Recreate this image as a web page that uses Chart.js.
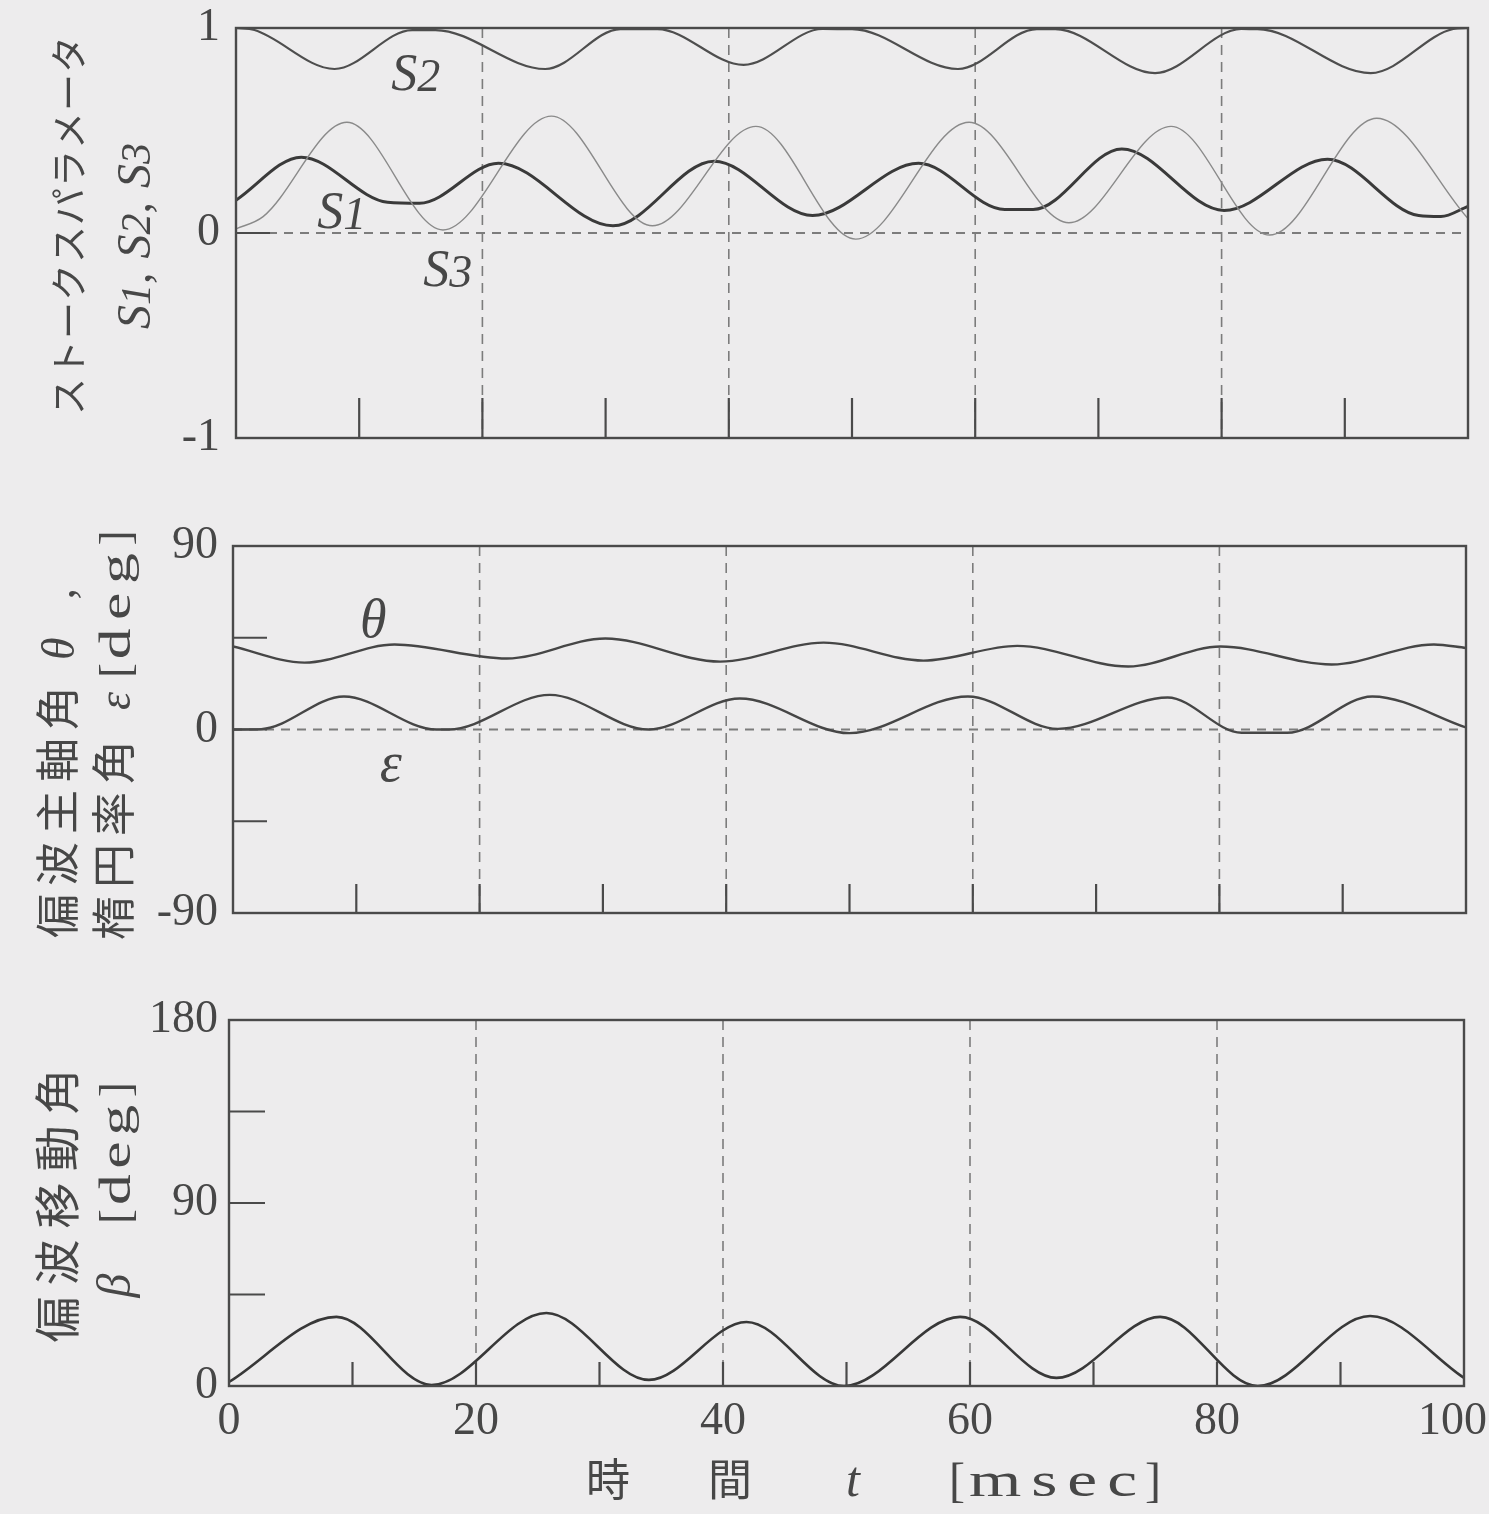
<!DOCTYPE html>
<html lang="ja">
<head>
<meta charset="utf-8">
<title>ストークスパラメータと偏波角の時間変化</title>
<script src="https://cdn.jsdelivr.net/npm/chart.js@4.4.1/dist/chart.umd.min.js"></script>
<style>
  html, body { margin: 0; padding: 0; background: #edeced; overflow: hidden; }
  #sheet { position: relative; width: 1489px; height: 1514px; }
  #sheet canvas { position: absolute; left: 0; }
</style>
</head>
<body>
<div id="sheet">
  <canvas id="stokes"></canvas>
  <canvas id="angles"></canvas>
  <canvas id="beta"></canvas>
</div>
<script>
// ---- time axis [msec] ----
const T_LABELS = [0, 20, 40, 60, 80, 100];
const T_GRID = [20, 40, 60, 80];
const T_TICKS = [10, 20, 30, 40, 50, 60, 70, 80, 90];

// ---- Stokes parameters (turning points of each trace) ----
const S1_T = [0, 5.3, 12.3, 14.9, 21.3, 30.6, 38.8, 46.8, 55.4, 62.4, 64.7, 71.9, 80.2, 88.6, 96.0, 97.8, 100];
const S1_V = [0.16, 0.37, 0.15, 0.145, 0.34, 0.035, 0.35, 0.085, 0.34, 0.115, 0.115, 0.41, 0.11, 0.36, 0.085, 0.08, 0.13];
const S2_T = [0, 1.5, 8.0, 14.3, 16.2, 25.1, 31.2, 34.2, 41.2, 47.6, 50.0, 58.6, 65.0, 66.5, 74.6, 81.6, 82.9, 92.1, 98.8, 100];
const S2_V = [1.0, 0.99, 0.80, 0.99, 0.99, 0.80, 0.995, 0.995, 0.82, 0.995, 0.995, 0.80, 0.995, 0.995, 0.78, 0.995, 0.995, 0.78, 0.995, 1.0];
const S3_T = [0, 2.2, 9.0, 16.8, 25.6, 33.8, 42.2, 50.3, 59.5, 67.6, 75.9, 83.9, 92.6, 100];
const S3_V = [0.02, 0.08, 0.54, 0.015, 0.57, 0.035, 0.52, -0.03, 0.54, 0.05, 0.52, -0.01, 0.56, 0.07];

// ---- principal axis angle theta and ellipticity angle epsilon [deg] ----
const THETA_T = [0, 5.8, 13.1, 22.2, 30.2, 39.5, 47.9, 56.0, 63.6, 72.6, 80.1, 89.1, 97.4, 100];
const THETA_V = [40.7, 32.8, 41.7, 34.8, 44.6, 33.3, 42.6, 33.8, 41.0, 30.9, 40.7, 31.9, 41.7, 40.0];
const EPS_T = [0, 2.3, 9.0, 16.5, 17.5, 25.7, 33.7, 41.1, 50.0, 59.6, 66.9, 75.8, 81.8, 85.5, 92.4, 100];
const EPS_V = [0, 0.2, 16.2, 0, 0, 17.0, 0, 15.2, -1.8, 16.2, 0.3, 15.7, -1.6, -1.6, 16.2, 1.0];

// ---- polarization shift angle beta [deg] ----
const BETA_T = [0, 8.7, 16.4, 25.7, 34.0, 41.9, 49.8, 59.2, 67.0, 75.4, 83.3, 92.4, 100];
const BETA_V = [2, 34, 0.5, 35.9, 3, 31.5, 0, 34, 4, 34, 0, 34.4, 4];

// ---- labelled values on the vertical axes ----
const STOKES_Y_LABELS = [-1, 0, 1];
const ANGLE_Y_LABELS = [-90, 0, 90];
const BETA_Y_LABELS = [0, 90, 180];

const SERIF = '"Liberation Serif", "DejaVu Serif", serif';
const JP = '"Noto Sans CJK JP", "Noto Sans CJK SC", sans-serif';
const INK = '#474747';
const FRAME = '#4a4a4a';
const GRID = '#7c7c7c';
const TICK_FONT = { family: SERIF, size: 46 };

const pts = (ts, vs) => ts.map((t, i) => ({ x: t, y: vs[i] }));

function seg(ctx, x1, y1, x2, y2) {
  ctx.beginPath(); ctx.moveTo(x1, y1); ctx.lineTo(x2, y2); ctx.stroke();
}

// width of one piece of a mixed-font text run
function partWidth(ctx, p) {
  if (p.gap) return p.gap;
  ctx.font = p.f;
  if (p.adv) return p.adv * [...p.t].length;
  if (p.w) return p.w;
  return ctx.measureText(p.t).width * (p.sx || 1);
}

function drawPart(ctx, p, x, y) {
  if (p.gap) return;
  ctx.font = p.f;
  const sx = p.sx || 1;
  const chars = [...p.t];
  const yy = y + (p.dy || 0);
  const put = (s, cx) => {
    ctx.save(); ctx.translate(cx, yy); ctx.scale(sx, 1); ctx.fillText(s, 0, 0); ctx.restore();
  };
  if (p.adv) {
    chars.forEach((c, i) => put(c, x + i * p.adv));
  } else if (p.w) {
    // spread the characters evenly over the given width
    const nat = chars.map(c => ctx.measureText(c).width * sx);
    const sum = nat.reduce((a, b) => a + b, 0);
    const extra = chars.length > 1 ? (p.w - sum) / (chars.length - 1) : 0;
    let cx = x;
    chars.forEach((c, i) => { put(c, cx); cx += nat[i] + extra; });
  } else {
    put(p.t, x);
  }
}

// text run, optionally rotated to read bottom-to-top
function drawRun(ctx, x, y, parts, opts) {
  const o = Object.assign({ rotate: false, align: 'start' }, opts);
  ctx.save();
  ctx.translate(x, y);
  if (o.rotate) ctx.rotate(-Math.PI / 2);
  ctx.textBaseline = 'alphabetic';
  ctx.textAlign = 'left';
  ctx.fillStyle = INK;
  const ws = parts.map(p => partWidth(ctx, p));
  const total = ws.reduce((a, b) => a + b, 0);
  let cx = o.align === 'center' ? -total / 2 : 0;
  parts.forEach((p, i) => { drawPart(ctx, p, cx, 0); cx += ws[i]; });
  ctx.restore();
}

function decor(cfg) {
  return {
    id: 'decor',
    beforeDatasetsDraw(chart) {
      const { ctx, chartArea: a, scales: { x, y } } = chart;
      ctx.save();
      ctx.strokeStyle = GRID;
      ctx.lineWidth = 1.6;
      ctx.setLineDash([10, 7]);
      T_GRID.forEach(t => {
        const px = x.getPixelForValue(t);
        seg(ctx, px, a.top, px, a.bottom);
      });
      if (cfg.zeroLine) {
        ctx.setLineDash([9, 7]);
        ctx.lineWidth = 1.8;
        const py = y.getPixelForValue(0);
        seg(ctx, a.left, py, a.right, py);
      }
      ctx.restore();
    },
    afterDatasetsDraw(chart) {
      const { ctx, chartArea: a, scales: { x, y } } = chart;
      ctx.save();
      ctx.strokeStyle = FRAME;
      ctx.lineWidth = 2.2;
      // inward ticks along the time axis
      T_TICKS.forEach(t => {
        const px = x.getPixelForValue(t);
        seg(ctx, px, a.bottom, px, a.bottom - cfg.tickLen);
      });
      // inward ticks along the value axis
      cfg.yTicks.forEach(v => {
        const py = y.getPixelForValue(v);
        seg(ctx, a.left, py, a.left + cfg.yTickLen, py);
      });
      // frame
      ctx.lineWidth = 2.4;
      ctx.strokeRect(a.left, a.top, a.right - a.left, a.bottom - a.top);
      ctx.restore();

      // trace names inside the plot
      cfg.marks.forEach(m => {
        drawRun(ctx, x.getPixelForValue(m.t), y.getPixelForValue(m.v), m.parts);
      });
      // axis titles (page coordinates shifted into this canvas)
      cfg.titles.forEach(tt => {
        drawRun(ctx, tt.x, tt.y - cfg.top, tt.parts, { rotate: tt.rotate, align: tt.align });
      });
    }
  };
}

function panel(id, cfg) {
  const canvas = document.getElementById(id);
  canvas.width = 1489;
  canvas.height = cfg.height;
  canvas.style.top = cfg.top + 'px';
  const lastT = T_LABELS[T_LABELS.length - 1];
  return new Chart(canvas, {
    type: 'line',
    data: { datasets: cfg.datasets },
    options: {
      responsive: false,
      animation: false,
      events: [],
      layout: { padding: { left: 0, right: cfg.padRight, top: cfg.padTop, bottom: cfg.padBottom } },
      plugins: { legend: { display: false }, tooltip: { enabled: false } },
      elements: { point: { radius: 0 } },
      scales: {
        x: {
          type: 'linear', min: 0, max: 100,
          display: cfg.showX,
          afterFit(s) { s.paddingLeft = 0; s.paddingRight = 0; if (cfg.showX) s.height = 70; },
          grid: { display: false, drawTicks: false },
          border: { display: false },
          ticks: {
            stepSize: 20, padding: 8, maxRotation: 0, autoSkip: false,
            color: INK, font: TICK_FONT,
            // the last label is nudged inward so it stays on the page
            callback: v => (T_LABELS.includes(v) ? (v === lastT ? v + '\u2002' : String(v)) : '')
          }
        },
        y: {
          type: 'linear', min: cfg.yMin, max: cfg.yMax,
          afterFit(s) { s.width = cfg.left; s.paddingTop = 0; s.paddingBottom = 0; },
          grid: { display: false, drawTicks: false },
          border: { display: false },
          ticks: {
            stepSize: cfg.yStep, padding: cfg.yPad, autoSkip: false,
            color: INK, font: TICK_FONT,
            callback: v => (cfg.yLabels.includes(v) ? String(v) : '')
          }
        }
      }
    },
    plugins: [decor(cfg)]
  });
}

const line = (data, color, width) => ({
  data, borderColor: color, borderWidth: width, fill: false,
  pointRadius: 0, cubicInterpolationMode: 'monotone'
});

const sub = (s, d) => [
  { t: s, f: `italic 52px ${SERIF}` },
  { t: d, f: `italic 46px ${SERIF}`, dy: 1 }
];

// bracketed unit, e.g. [deg]
const unit = (u, w, size) => [
  { t: '[', f: `${size}px ${SERIF}` }, { gap: 4 },
  { t: u, f: `${size}px ${SERIF}`, w, sx: 1.4 }, { gap: 8 },
  { t: ']', f: `${size}px ${SERIF}` }
];

// ---- top: Stokes parameters ----
panel('stokes', {
  top: 0, height: 470, left: 236, padRight: 21, padTop: 28, padBottom: 32,
  showX: false, yMin: -1, yMax: 1, yStep: 1, yPad: 16, yLabels: STOKES_Y_LABELS,
  yTicks: [0], yTickLen: 34, tickLen: 40, zeroLine: true,
  datasets: [
    line(pts(S3_T, S3_V), '#8a8a8a', 1.4),
    line(pts(S2_T, S2_V), '#4e4e4e', 2.2),
    line(pts(S1_T, S1_V), '#3a3a3a', 3)
  ],
  marks: [
    { t: 12.6, v: 0.70, parts: sub('S', '2') },
    { t: 6.6, v: 0.025, parts: sub('S', '1') },
    { t: 15.2, v: -0.26, parts: sub('S', '3') }
  ],
  titles: [
    { x: 83, y: 225, rotate: true, align: 'center',
      parts: [{ t: 'ストークスパラメータ', f: `37px ${JP}`, adv: 38 }] },
    { x: 150, y: 236, rotate: true, align: 'center',
      parts: [
        { t: 'S', f: `italic 48px ${SERIF}` }, { t: '1', f: `italic 42px ${SERIF}` },
        { t: ',', f: `46px ${SERIF}` }, { gap: 14 },
        { t: 'S', f: `italic 48px ${SERIF}` }, { t: '2', f: `italic 42px ${SERIF}` },
        { t: ',', f: `46px ${SERIF}` }, { gap: 14 },
        { t: 'S', f: `italic 48px ${SERIF}` }, { t: '3', f: `italic 42px ${SERIF}` }
      ] }
  ]
});

// ---- middle: theta and epsilon ----
panel('angles', {
  top: 480, height: 470, left: 233, padRight: 23, padTop: 66, padBottom: 37,
  showX: false, yMin: -90, yMax: 90, yStep: 45, yPad: 15, yLabels: ANGLE_Y_LABELS,
  yTicks: [-45, 0, 45], yTickLen: 34, tickLen: 29, zeroLine: true,
  datasets: [
    line(pts(THETA_T, THETA_V), '#464646', 2.4),
    line(pts(EPS_T, EPS_V), '#464646', 2.4)
  ],
  marks: [
    { t: 10.3, v: 45.5, parts: [{ t: 'θ', f: `italic 54px ${SERIF}` }] },
    { t: 11.9, v: -25.5, parts: [{ t: 'ε', f: `italic 56px ${SERIF}` }] }
  ],
  titles: [
    { x: 74, y: 938, rotate: true, align: 'start',
      parts: [
        { t: '偏波主軸角', f: `44px ${JP}`, adv: 52 }, { gap: 18 },
        { t: 'θ', f: `italic 46px ${SERIF}` }, { gap: 38 },
        { t: ',', f: `46px ${SERIF}` }
      ] },
    { x: 130, y: 940, rotate: true, align: 'start',
      parts: [
        { t: '楕円率角', f: `44px ${JP}`, adv: 52 }, { gap: 22 },
        { t: 'ε', f: `italic 46px ${SERIF}` }, { gap: 14 },
        ...unit('deg', 106, 44)
      ] }
  ]
});

// ---- bottom: beta ----
panel('beta', {
  top: 950, height: 564, left: 229, padRight: 25, padTop: 70, padBottom: 58,
  showX: true, yMin: 0, yMax: 180, yStep: 45, yPad: 11, yLabels: BETA_Y_LABELS,
  yTicks: [45, 90, 135], yTickLen: 36, tickLen: 24, zeroLine: false,
  datasets: [
    line(pts(BETA_T, BETA_V), '#383838', 2.6)
  ],
  marks: [],
  titles: [
    { x: 74, y: 1200, rotate: true, align: 'center',
      parts: [{ t: '偏波移動角', f: `46px ${JP}`, adv: 57 }] },
    { x: 130, y: 1190, rotate: true, align: 'center',
      parts: [
        { t: 'β', f: `italic 48px ${SERIF}` }, { gap: 50 },
        ...unit('deg', 100, 44)
      ] },
    { x: 586, y: 1496, parts: [{ t: '時', f: `44px ${JP}` }] },
    { x: 708, y: 1496, parts: [{ t: '間', f: `44px ${JP}` }] },
    { x: 846, y: 1496, parts: [{ t: 't', f: `italic 50px ${SERIF}` }] },
    { x: 949, y: 1496, parts: unit('msec', 168, 48) }
  ]
});
</script>
</body>
</html>
